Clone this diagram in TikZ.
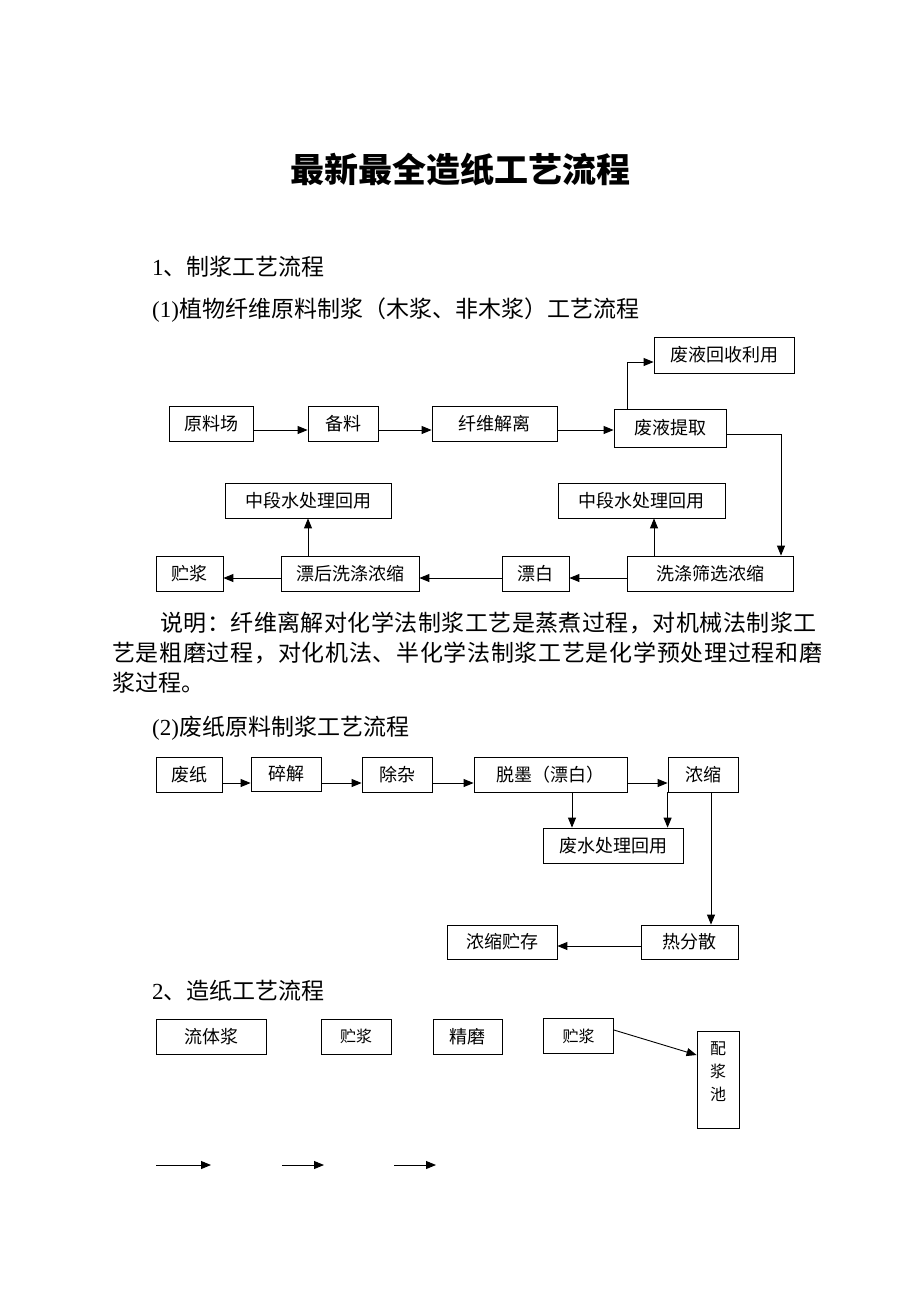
\documentclass[tikz,border=0pt]{standalone}
\usepackage{fontspec}
\setmainfont{Liberation Serif}
\newfontfamily\cjk{Noto Sans CJK SC}
\usetikzlibrary{arrows.meta}
\usetikzlibrary{positioning}

\begin{document}
\begin{tikzpicture}
  [x=1pt, y=-1pt,
   box/.style={draw, line width=0.8pt, inner sep=0pt, minimum height=35pt,
         font=\cjk\fontsize{18}{18}\selectfont},
   smallbox/.style={box, font=\cjk\fontsize{16}{16}\selectfont},
   body/.style={anchor=west, inner sep=0pt, font=\fontsize{23}{23}\selectfont},
   flow/.style={-{Triangle[length=10pt,width=8pt]}, line width=0.9pt}
  ]
 \useasboundingbox (0,0) rectangle (920,1302);

 % headings and text
 \path
   (460,170) node (title) [font=\cjk\bfseries\fontsize{34}{34}\selectfont] {最新最全造纸工艺流程}
   (152,267) node (sec1)  [body] {1\cjk 、制浆工艺流程}
   (152,310) node (sub1)  [body] {(1)\cjk 植物纤维原料制浆（木浆、非木浆）工艺流程}
   (160,623) node (note1) [body] {\cjk\addfontfeatures{LetterSpace=2}说明：纤维离解对化学法制浆工艺是蒸煮过程，对机械法制浆工}
   (112,653) node (note2) [body] {\cjk\addfontfeatures{LetterSpace=3}艺是粗磨过程，对化机法、半化学法制浆工艺是化学预处理过程和磨}
   (112,683) node (note3) [body] {\cjk 浆过程。}
   (152,728) node (sub2)  [body] {(2)\cjk 废纸原料制浆工艺流程}
   (152,991) node (sec2)  [body] {2\cjk 、造纸工艺流程}
 ;

 % plant fibre pulping
 \path
   (211,424)   node (yard)     [box, minimum width=84pt]  {原料场}
   (343,424)   node (prep)     [box, minimum width=70pt]  {备料}
   (494.5,424) node (fiber)    [box, minimum width=125pt] {纤维解离}
   (670,428)   node (extract)  [box, minimum width=112pt, minimum height=38pt] {废液提取}
   (724,355)   node (recycle)  [box, minimum width=140pt, minimum height=36pt] {废液回收利用}
   (308,500.5) node (lwater)   [box, minimum width=166pt] {中段水处理回用}
   (641.5,500.5) node (rwater) [box, minimum width=167pt] {中段水处理回用}
   (189.5,573.5) node (store)  [box, minimum width=67pt]  {贮浆}
   (350,573.5) node (postwash) [box, minimum width=138pt] {漂后洗涤浓缩}
   (535.5,573.5) node (bleach) [box, minimum width=67pt]  {漂白}
   (710,573.5) node (wash)     [box, minimum width=166pt] {洗涤筛选浓缩}
 ;

 % waste paper pulping
 \path
   (189,774.5) node (paper)    [box, minimum width=66pt]  {废纸}
   (286,774)   node (pulp)     [box, minimum width=70pt, minimum height=34pt] {碎解}
   (397,774.5) node (clean)    [box, minimum width=70pt]  {除杂}
   (550.5,774.5) node (deink)  [box, minimum width=153pt] {脱墨（漂白）}
   (703,774.5) node (thick)    [box, minimum width=70pt]  {浓缩}
   (613,845.5) node (waste)    [box, minimum width=140pt] {废水处理回用}
   (689.5,942) node (disperse) [box, minimum width=97pt, minimum height=34pt]  {热分散}
   (502,942)   node (tstore)   [box, minimum width=110pt, minimum height=34pt] {浓缩贮存}
 ;

 % paper making
 \path
   (211,1036.5)   node (fluid)  [box, minimum width=110pt] {流体浆}
   (356,1036.5)   node (store2) [smallbox, minimum width=70pt] {贮浆}
   (467.5,1036.5) node (refine) [box, minimum width=69pt] {精磨}
   (578.5,1036)   node (store3) [smallbox, minimum width=70pt] {贮浆}
   (718,1079.5)   node (mix)    [smallbox, minimum width=42pt, minimum height=97pt,
                                 align=center, text depth=17pt,
                                 font=\cjk\fontsize{16}{23}\selectfont] {配\\浆\\池}
 ;

 % rows and columns of the connectors
 \coordinate (r0) at (0,362);
 \coordinate (r1) at (0,430);
 \coordinate (r2) at (0,434);
 \coordinate (r3) at (0,578);
 \coordinate (r5) at (0,783);
 \coordinate (r6) at (0,946);
 \coordinate (r7) at (0,1030);
 \coordinate (r8) at (0,1055);
 \coordinate (c1) at (627,0);
 \coordinate (c2) at (781,0);
 \coordinate (c3) at (654,0);
 \coordinate (c4) at (572,0);
 \coordinate (c5) at (711,0);
 \coordinate (f1a) at (156,1165);
 \coordinate (f1b) at (211,1165);
 \coordinate (f2a) at (282,1165);
 \coordinate (f2b) at (324,1165);
 \coordinate (f3a) at (394,1165);
 \coordinate (f3b) at (436,1165);

 \begin{scope}[flow]
   \draw (yard.east |- r1) -- (prep.west |- r1);
   \draw (prep.east |- r1) -- (fiber.west |- r1);
   \draw (fiber.east |- r1) -- (extract.west |- r1);
   \draw (extract.north -| c1) |- (recycle.west |- r0);
   \draw (extract.east |- r2) -| (wash.north -| c2);
   \draw (wash.west |- r3) -- (bleach.east |- r3);
   \draw (bleach.west |- r3) -- (postwash.east |- r3);
   \draw (postwash.west |- r3) -- (store.east |- r3);
   \draw (postwash.north -| lwater.south) -- (lwater.south);
   \draw (wash.north -| c3) -- (rwater.south -| c3);

   \draw (paper.east |- r5) -- (pulp.west |- r5);
   \draw (pulp.east |- r5) -- (clean.west |- r5);
   \draw (clean.east |- r5) -- (deink.west |- r5);
   \draw (deink.east |- r5) -- (thick.west |- r5);
   \draw (deink.south -| c4) -- (waste.north -| c4);
   \draw (thick.south west) -- (thick.south west |- waste.north);
   \draw (thick.south -| c5) -- (disperse.north -| c5);
   \draw (disperse.west |- r6) -- (tstore.east |- r6);

   \draw (store3.east |- r7) -- (mix.west |- r8);
   \draw (f1a) -- (f1b);
   \draw (f2a) -- (f2b);
   \draw (f3a) -- (f3b);
 \end{scope}

\end{tikzpicture}
\end{document}
